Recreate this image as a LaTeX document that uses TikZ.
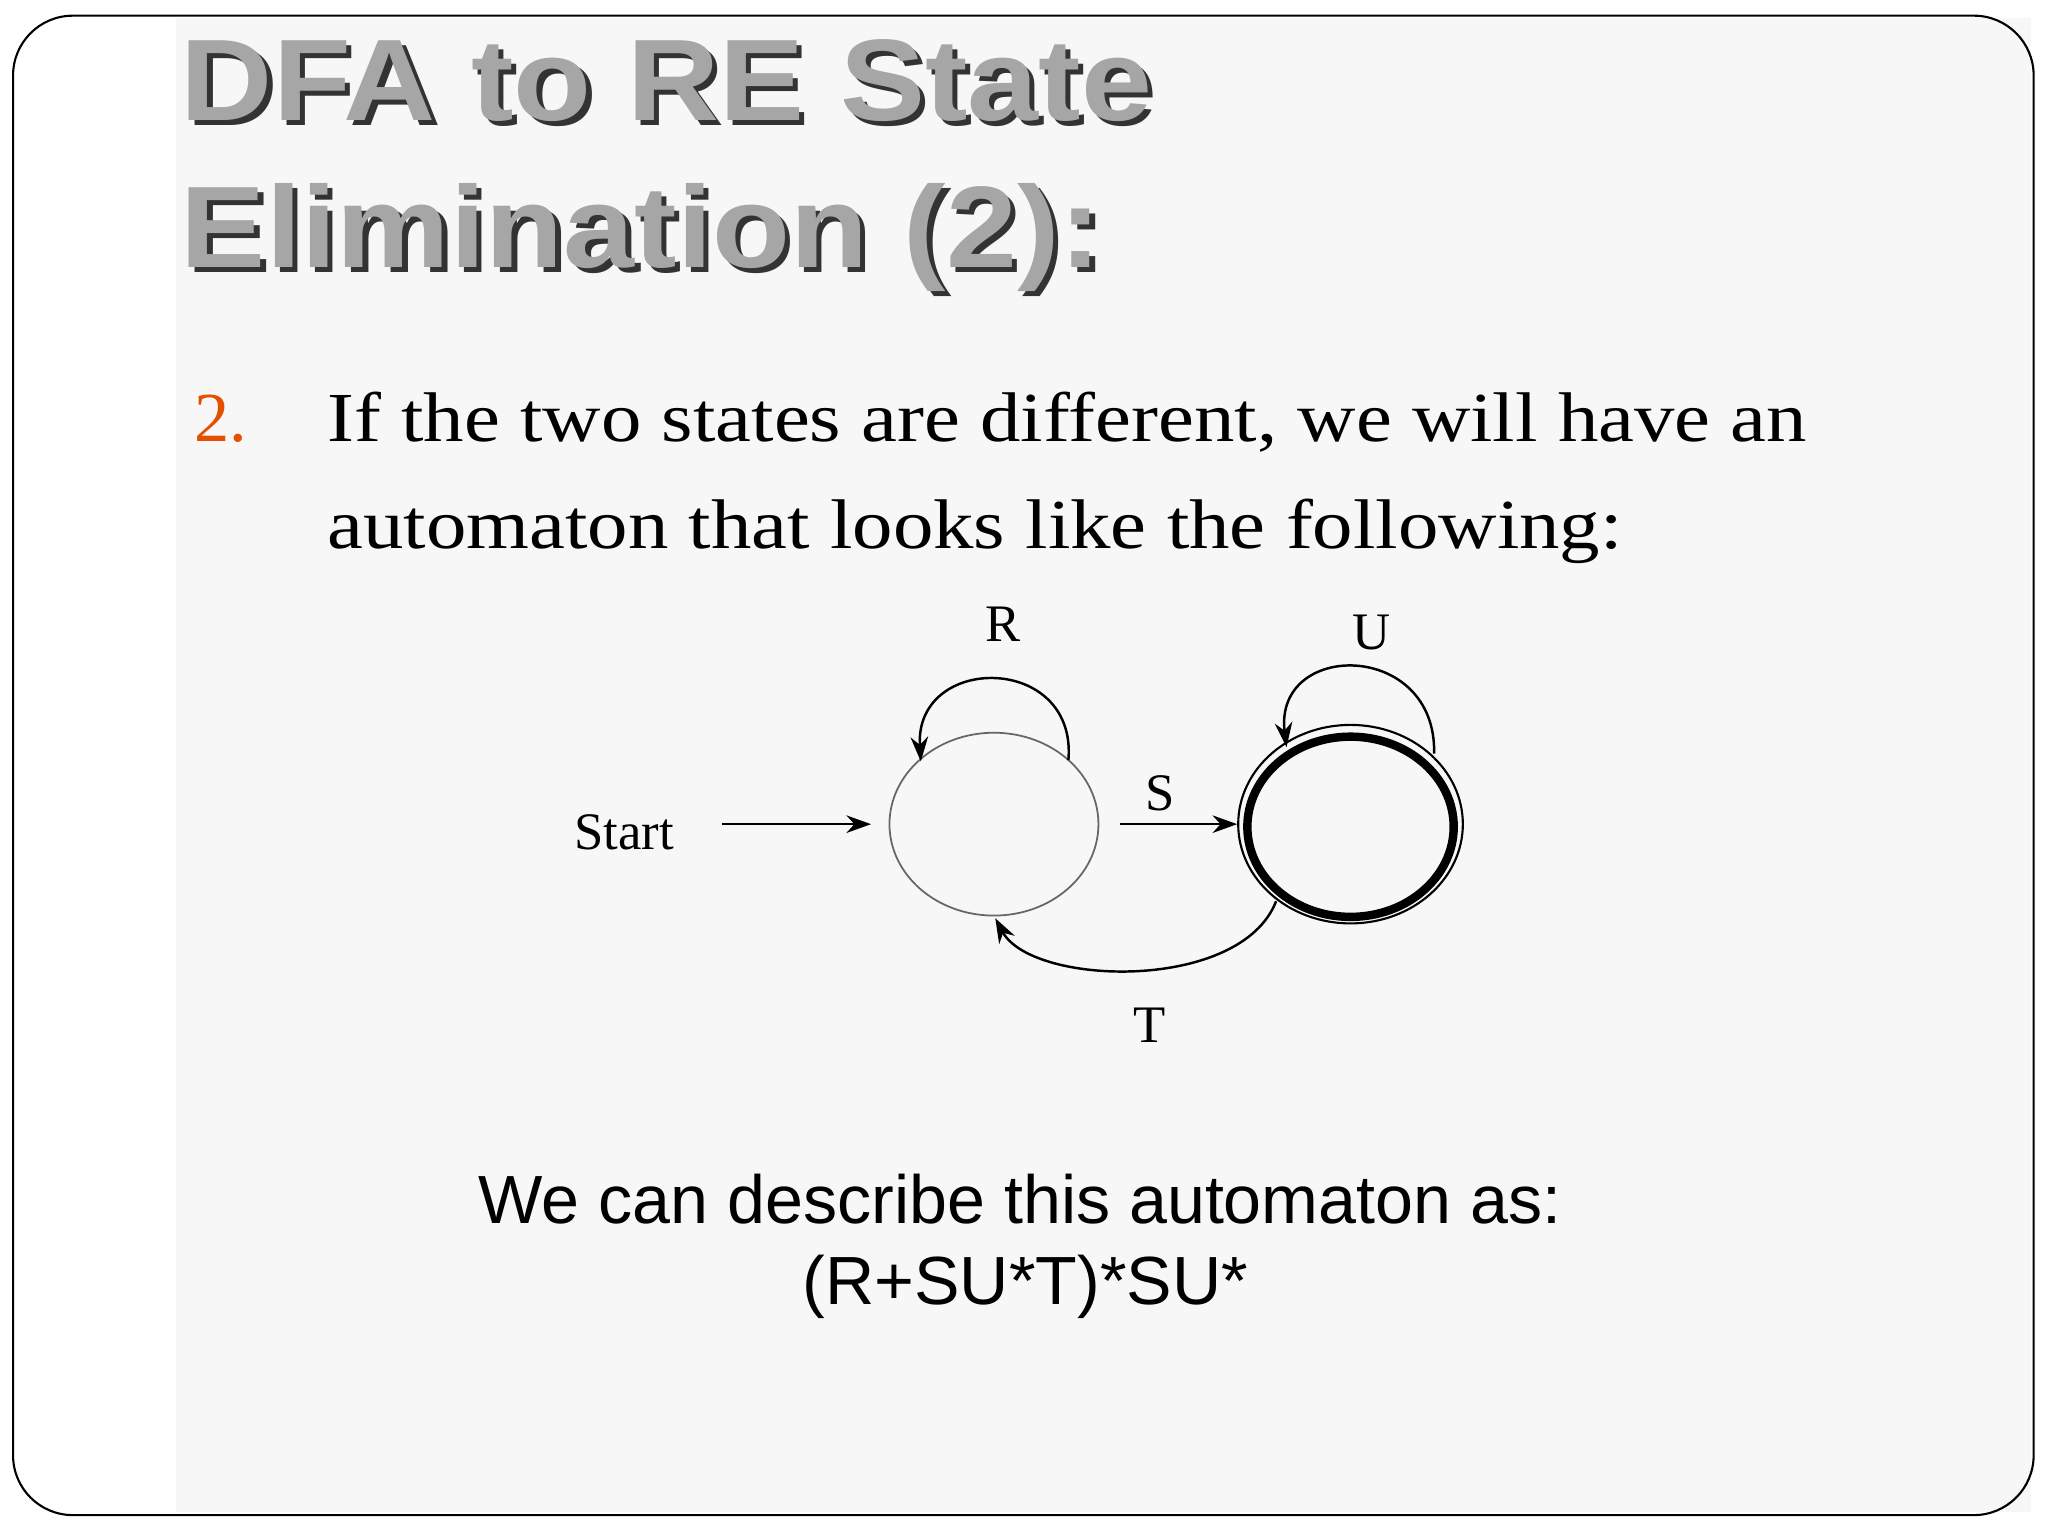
\documentclass[tikz,border=0pt]{standalone}
\usepackage{fontspec}
\setmainfont{Liberation Serif}
\setsansfont{Liberation Sans}
\usetikzlibrary{arrows.meta,shapes.geometric}
\begin{document}
\begin{tikzpicture}[x=0.01306cm,y=-0.01306cm,
  title/.style={font=\sffamily\bfseries\fontsize{33}{33}\selectfont,anchor=base west,inner sep=0},
  body/.style={font=\rmfamily\fontsize{20}{20}\selectfont,anchor=base west,inner sep=0},
  lbl/.style={font=\rmfamily\fontsize{15}{15}\selectfont,inner sep=0},
  arr/.style={-{Stealth[length=7pt,width=5pt]},line width=0.7pt},
  desc/.style={font=\sffamily\fontsize{19.4}{19.4}\selectfont,inner sep=0}]
\useasboundingbox (0,0) rectangle (1568,1176);
\fill[white] (0,0) rectangle (1568,1176);
\fill[black!3] (135,14) rectangle (1555,1158);
\draw[line width=0.6pt,rounded corners=17pt] (10,12) rectangle (1557,1160);
% title
\foreach \t/\y [count=\i] in {DFA to RE State/92, Elimination (2):/205}{
  \node[title,text=black!80] at (142,\y+4) {\scalebox{1.1}[1]{\t}};
  \node[title,text=black!35] (t\i) at (138,\y) {\scalebox{1.1}[1]{\t}};
}
\node[body,text=orange!70!red!90!black] (n2) at (148,338) {2.};
\node[body] (l1) at (250,338) {\scalebox{1.15}[1]{If the two states are different, we will have an}};
\node[body] (l2) at (250,420) {\scalebox{1.15}[1]{automaton that looks like the following:}};
% automaton
\node[draw=black!60,line width=0.5pt,ellipse,inner sep=0,minimum width={160*0.3716pt},minimum height={140*0.3716pt}] (q1) at (761,631) {};
\node[draw,line width=2.4pt,ellipse,inner sep=0,minimum width={158*0.3716pt},minimum height={138*0.3716pt}] (q2) at (1034,633) {};
\node[draw,line width=0.6pt,ellipse,inner sep=0,minimum width={172*0.3716pt},minimum height={152*0.3716pt}] (q2o) at (1034,631) {};
\node[lbl] (st) at (478,637) {Start};
\coordinate (sa) at (553,631);
\draw[arr] (sa) -- ([xshift=-5pt]q1.west);
\draw[arr] (q1.east) ++(16,0) coordinate (sb) -- (q2o.west);
\node[lbl] (S) at (888,607) {S};
\draw[arr] (818,582) .. controls (825,500) and (700,500) .. (705,583);
\node[lbl] (R) at (768,478) {R};
\draw[arr] (1098,577) .. controls (1100,490) and (975,490) .. (985,572);
\node[lbl] (U) at (1050,484) {U};
\draw[arr] (977,690) .. controls (950,760) and (790,755) .. (762,703);
\node[lbl] (T) at (880,785) {T};
\node[desc] (d1) at (781,918) {We can describe this automaton as:};
\node[desc] (d2) at (785,985) {(R+SU*T)*SU*};
\end{tikzpicture}
\end{document}
